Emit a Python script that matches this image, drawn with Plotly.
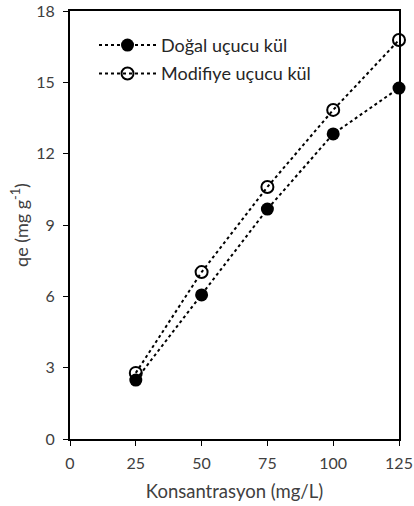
import plotly.graph_objects as go

konsantrasyon = [25, 50, 75, 100, 125]
dogal = [2.48, 6.06, 9.67, 12.83, 14.76]
modifiye = [2.78, 7.02, 10.6, 13.84, 16.78]
x_ticks = [0, 25, 50, 75, 100, 125]
y_ticks = [0, 3, 6, 9, 12, 15, 18]

FONT = "Lato, Open Sans, sans-serif"
TXT = "#404040"

fig = go.Figure()
fig.add_trace(go.Scatter(
    x=konsantrasyon, y=dogal, mode="lines+markers", name="Doğal uçucu kül",
    legendgroup="a",
    line=dict(color="black", width=2, dash="dot"),
    marker=dict(symbol="circle", size=13, color="black"),
    cliponaxis=False,
))
fig.add_trace(go.Scatter(
    x=konsantrasyon, y=modifiye, mode="lines+markers", name="Modifiye uçucu kül",
    legendgroup="b",
    line=dict(color="black", width=2, dash="dot"),
    marker=dict(symbol="circle-open", size=12, color="black", line=dict(width=2, color="black")),
    cliponaxis=False,
))

axis_common = dict(
    showgrid=False, zeroline=False, showline=True, linecolor="black", linewidth=2,
    ticks="outside", ticklen=5, tickcolor="black", tickwidth=1,
    tickfont=dict(family=FONT, size=16, color=TXT),
    mirror=True, automargin=False, ticklabeloverflow="allow",
)
fig.update_xaxes(range=[0, 125], tickvals=x_ticks, ticklabelstandoff=4,
                 title=dict(text="Konsantrasyon (mg/L)", font=dict(family=FONT, size=18.5, color=TXT), standoff=14),
                 **axis_common)
fig.update_yaxes(range=[0, 18], tickvals=y_ticks, ticklabelstandoff=5,
                 title=dict(text="qe (mg g<sup>-1</sup>)", font=dict(family=FONT, size=18, color=TXT), standoff=3),
                 **axis_common)

fig.update_layout(
    width=414, height=506,
    margin=dict(l=70, r=15, t=11, b=67),
    plot_bgcolor="white", paper_bgcolor="white",
    font=dict(family=FONT, color=TXT),
    showlegend=True,
    legend=dict(x=0.073, y=0.963, xanchor="left", yanchor="top", bgcolor="rgba(0,0,0,0)",
                font=dict(family=FONT, size=18, color="#262626"), tracegroupgap=2,
                itemwidth=57),
)

fig.write_html(
    "out.html",
    config={"displayModeBar": False},
    post_script="document.body.style.margin='0';document.body.style.overflow='hidden';",
)
